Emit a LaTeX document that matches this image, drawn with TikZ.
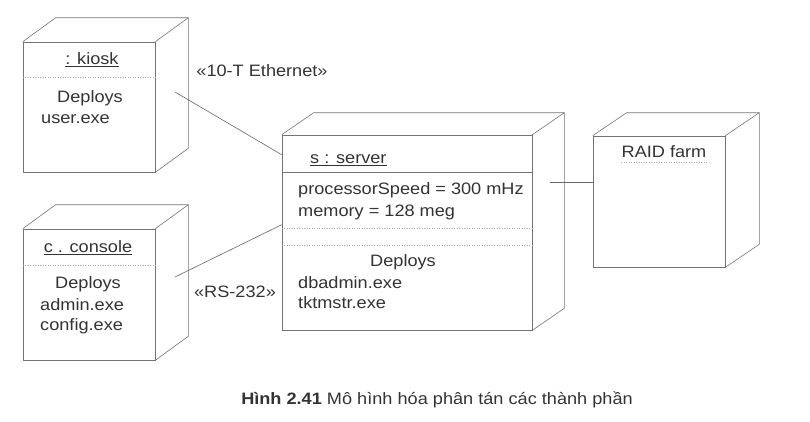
\documentclass[tikz,border=0pt]{standalone}
\usepackage{fontspec}
\setmainfont[FakeStretch=1.1]{Liberation Sans}
\usetikzlibrary{calc,positioning}

\newcommand{\boxdepth}[3]{% node, dx, dy
\draw[boxline] (#1.north west) -- ++(#2,-#3) -- ($(#1.north east)+(#2,-#3)$) -- ($(#1.south east)+(#2,-#3)$) -- (#1.south east);
\draw[boxline] (#1.north east) -- ++(#2,-#3);
}

\begin{document}
\begin{tikzpicture}[x=1pt,y=-1pt,
  boxline/.style = {draw=black!55, line width=0.6pt},
  front/.style = {boxline, inner sep=0pt, minimum width=#1},
  sep/.style = {draw=black!35, line width=0.5pt, dotted},
  link/.style = {draw=black!60, line width=0.6pt},
  txt/.style = {text=black!80, font=\fontsize{16.5}{18}\selectfont, inner sep=0pt},
  lbl/.style = {txt, anchor=west}]
\useasboundingbox (0,0) rectangle (810,421);

% kiosk
\node[front=132pt, minimum height=130pt] (kiosk) at (89,107) {};
\boxdepth{kiosk}{33}{24}
\draw[sep] (kiosk.west |- 0,77) -- (kiosk.east |- 0,77);
\node[txt] (kiosktitle) at (92,60) {\underline{: kiosk}};
\node[txt] (kioskdep) at (90,98) {Deploys};
\node[lbl] (kioskexe) at (41,119) {user.exe};

% console
\node[front=132pt, minimum height=131pt] (console) at (89,294.5) {};
\boxdepth{console}{33}{24}
\draw[sep] (console.west |- 0,265) -- (console.east |- 0,265);
\node[txt] (consoletitle) at (88,248) {\underline{c . console}};
\node[txt] (consoledep) at (88,284) {Deploys};
\node[lbl] (consoleadmin) at (40,305) {admin.exe};
\node[lbl] (consoleconfig) at (40,326) {config.exe};

% server
\node[front=250pt, minimum height=195pt] (server) at (407,232.5) {};
\boxdepth{server}{32}{22}
\draw[boxline] (server.west |- 0,172) -- (server.east |- 0,172);
\draw[sep] (server.west |- 0,228) -- (server.east |- 0,228);
\draw[sep] (server.west |- 0,245) -- (server.east |- 0,245);
\node[lbl] (servertitle) at (310,160) {\underline{s : server}};
\node[lbl] (speed) at (298,190) {processorSpeed = 300 mHz};
\node[lbl] (memory) at (298,212) {memory = 128 meg};
\node[txt] (serverdep) at (403,262) {Deploys};
\node[lbl] (dbadmin) at (298,283) {dbadmin.exe};
\node[lbl] (tktmstr) at (298,303) {tktmstr.exe};

% RAID farm
\node[front=132pt, minimum height=131pt] (raid) at (659,201.5) {};
\boxdepth{raid}{34}{23}
\node[txt] (raidtitle) at (664,152) {RAID farm};
\draw[sep] ($(raidtitle.south west)+(0,4)$) -- ($(raidtitle.south east)+(0,4)$);

% links
\coordinate (kioskport) at (175,92);
\coordinate (consoleport) at (175,277);
\coordinate (serverport) at (550,182);
\draw[link] (kioskport) -- ($(server.north west)+(0,20)$);
\draw[link] (consoleport) -- ($(server.north west)+(0,90)$);
\draw[link] (serverport) -- (raid.west |- serverport);
\node[txt] (ethernet) at (262,71) {«10-T Ethernet»};
\node[txt] (rs) at (235,292) {«RS-232»};

% caption
\node[txt] (caption) at (437,400) {\textbf{Hình 2.41} Mô hình hóa phân tán các thành phần};
\end{tikzpicture}
\end{document}
